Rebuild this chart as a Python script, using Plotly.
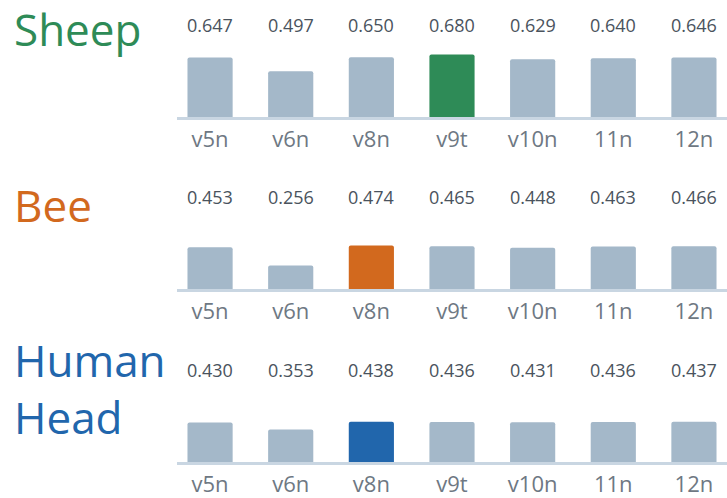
import plotly.graph_objects as go

models = ["v5n", "v6n", "v8n", "v9t", "v10n", "11n", "12n"]
sheep = [0.647, 0.497, 0.650, 0.680, 0.629, 0.640, 0.646]
bee = [0.453, 0.256, 0.474, 0.465, 0.448, 0.463, 0.466]
head = [0.430, 0.353, 0.438, 0.436, 0.431, 0.436, 0.437]

titles = ["Sheep", "Bee", "Human<br>Head"]
series = [sheep, bee, head]
highlight = [3, 2, 2]
accent = ["#2e8b57", "#d2691e", "#2166ac"]
gray = "#a4b8c9"

W, H = 727, 498
baselines = [118, 291, 465]   # px from top
scale = 93.0                  # px per unit

FONT = "Open Sans"
fig = go.Figure()
annotations = []
layout = dict(
    width=W, height=H, margin=dict(l=0, r=0, t=0, b=0),
    paper_bgcolor="white", plot_bgcolor="white",
    showlegend=False, barcornerradius=2,
    font=dict(family=FONT),
)

for i, (vals, hi, col) in enumerate(zip(series, highlight, accent)):
    n = "" if i == 0 else str(i + 1)
    xa, ya = "x" + n, "y" + n
    colors = [col if j == hi else gray for j in range(len(vals))]
    fig.add_trace(go.Bar(x=models, y=vals, marker=dict(color=colors, line=dict(width=0)),
                         width=0.56, xaxis=xa, yaxis=ya, hoverinfo="skip"))
    b = baselines[i]
    y0 = (H - b) / H
    y1 = (H - (b - scale)) / H
    layout["xaxis" + n] = dict(
        domain=[177 / W, 1], anchor=ya, range=[-0.41, 6.41],
        showline=True, linecolor="#c9d6e2", linewidth=3,
        showgrid=False, zeroline=False, ticks="",
        tickfont=dict(size=22, color="#6e7883", family=FONT),
        ticklabelstandoff=0, fixedrange=True,
    )
    layout["yaxis" + n] = dict(
        domain=[y0, y1], anchor=xa, range=[0, 1], visible=False, fixedrange=True,
    )
    for m, v in zip(models, vals):
        annotations.append(dict(
            x=m, y=1.0, xref=xa, yref=ya + " domain", text=f"{v:.3f}",
            showarrow=False, xanchor="center", yanchor="middle",
            font=dict(size=18, color="#4a535d", family=FONT),
        ))

title_y = [29, 206, 391]
for t, col, ty in zip(titles, accent, title_y):
    annotations.append(dict(
        x=12 / W, y=(H - ty) / H, xref="paper", yref="paper", text=t,
        showarrow=False, xanchor="left", yanchor="middle", align="left",
        font=dict(size=44, color=col, family=FONT),
    ))

layout["annotations"] = annotations
fig.update_layout(**layout)
fig.write_html(
    "out.html",
    config={"displayModeBar": False},
    post_script="document.body.style.margin='0';document.body.style.overflow='hidden';",
)
